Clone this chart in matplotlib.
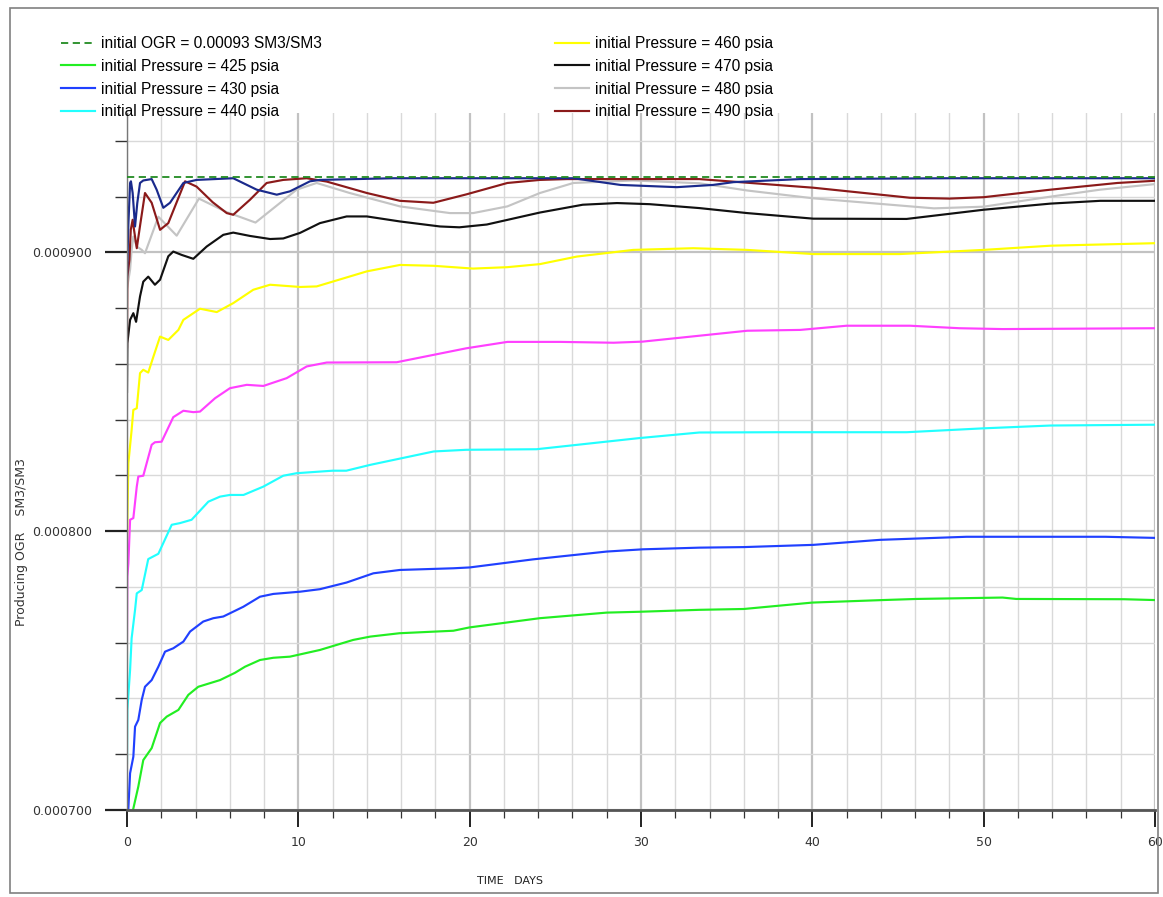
import matplotlib
matplotlib.use("Agg")
import matplotlib.pyplot as plt
from matplotlib.ticker import MultipleLocator, FormatStrFormatter
from matplotlib.patches import Rectangle

# producing OGR values in units of 1e-6 SM3/SM3
OGR_SCALE = 1e-6
ogr_initial = 927.0

t_425 = [0.35, 0.66, 0.95, 1.44, 1.93, 2.32, 3.0, 3.58, 4.16, 5.43, 6.3, 6.89, 7.76, 8.54, 9.51,
         11.26, 13.2, 14.2, 15.9, 19.05, 20.0, 24.1, 28.0, 29.9, 33.4, 36.0, 40.0, 44.1, 46.1,
         51.1, 51.9, 58.2, 60.0]
ogr_425 = [700.0, 708.4, 717.9, 722.2, 731.2, 733.5, 735.9, 741.3, 744.2, 746.6, 749.2, 751.4,
           753.8, 754.6, 755.0, 757.4, 761.0, 762.2, 763.4, 764.3, 765.5, 768.8, 770.8, 771.1,
           771.8, 772.1, 774.4, 775.3, 775.7, 776.2, 775.7, 775.6, 775.3]

t_430 = [0.08, 0.18, 0.37, 0.47, 0.66, 0.86, 1.05, 1.44, 1.83, 2.22, 2.7, 3.29, 3.68, 4.45, 5.04,
         5.62, 6.79, 7.76, 8.54, 10.1, 11.26, 12.82, 14.38, 15.93, 19.05, 20.0, 23.7, 28.0, 30.1,
         33.4, 36.0, 40.06, 43.95, 49.0, 57.1, 60.0]
ogr_430 = [700.6, 713.2, 719.1, 729.9, 732.3, 739.5, 744.2, 746.6, 751.4, 756.8, 758.0, 760.4,
           764.0, 767.6, 768.8, 769.4, 772.9, 776.5, 777.5, 778.3, 779.2, 781.6, 784.9, 786.1,
           786.7, 787.0, 789.9, 792.7, 793.5, 794.1, 794.3, 795.1, 796.9, 798.0, 798.0, 797.6]

t_440 = [0.0, 0.02, 0.18, 0.27, 0.47, 0.57, 0.86, 1.24, 1.83, 2.61, 3.09, 3.77, 4.75, 5.43, 6.0,
         6.8, 7.96, 9.12, 9.9, 12.0, 12.8, 14.2, 17.9, 19.8, 23.9, 29.9, 33.4, 37.9, 45.5, 50.0,
         53.9, 60.0]
ogr_440 = [716.8, 735.9, 750.2, 761.6, 771.8, 777.7, 778.9, 790.0, 791.9, 802.3, 802.9, 804.1,
           810.6, 812.4, 813.0, 813.0, 816.0, 819.9, 820.8, 821.7, 821.7, 823.8, 828.6, 829.2,
           829.4, 833.4, 835.4, 835.5, 835.5, 836.9, 837.9, 838.2]

t_450 = [0.0, 0.02, 0.08, 0.18, 0.37, 0.57, 0.66, 0.95, 1.44, 1.63, 2.02, 2.7, 3.29, 3.87, 4.26,
         5.14, 6.01, 6.99, 7.96, 9.32, 10.49, 11.66, 15.74, 19.8, 22.2, 25.3, 28.4, 30.1, 36.2,
         39.3, 42.0, 45.7, 48.6, 51.1, 60.0]
ogr_450 = [761.0, 783.7, 788.5, 804.1, 804.7, 816.0, 819.6, 819.9, 831.0, 831.9, 832.1, 840.9,
           843.2, 842.7, 842.9, 847.7, 851.3, 852.5, 852.1, 854.9, 859.1, 860.5, 860.6, 865.6,
           867.9, 867.9, 867.6, 868.0, 871.9, 872.2, 873.7, 873.7, 872.8, 872.5, 872.8]

t_460 = [0.0, 0.08, 0.27, 0.37, 0.57, 0.76, 0.95, 1.24, 1.54, 1.93, 2.41, 3.0, 3.29, 4.26, 5.24,
         6.2, 7.37, 8.35, 10.1, 11.07, 14.0, 15.93, 17.88, 20.2, 22.2, 24.1, 26.25, 29.55, 33.05,
         36.2, 40.06, 45.1, 50.0, 53.9, 60.0]
ogr_460 = [797.0, 824.4, 836.3, 843.5, 844.1, 856.7, 857.9, 856.9, 862.6, 869.8, 868.6, 872.2,
           875.8, 879.8, 878.6, 881.8, 886.6, 888.4, 887.6, 887.8, 893.2, 895.5, 895.2, 894.2,
           894.7, 895.8, 898.5, 900.9, 901.5, 900.9, 899.4, 899.4, 900.9, 902.4, 903.3]

t_470 = [0.0, 0.02, 0.18, 0.37, 0.53, 0.76, 0.95, 1.24, 1.63, 1.93, 2.41, 2.7, 3.19, 3.87, 4.65,
         5.62, 6.2, 7.18, 8.35, 9.12, 10.1, 11.26, 12.82, 14.0, 15.93, 18.27, 19.4, 21.0, 24.1,
         26.6, 28.6, 30.5, 33.4, 36.2, 40.06, 45.5, 50.0, 53.9, 56.8, 60.0]
ogr_470 = [850.0, 867.4, 875.8, 878.2, 875.1, 884.2, 889.5, 891.3, 888.4, 890.2, 898.6, 900.3,
           899.1, 897.7, 902.1, 906.3, 907.1, 905.9, 904.8, 905.0, 907.0, 910.5, 912.9, 912.9,
           911.1, 909.3, 909.0, 910.0, 914.3, 917.1, 917.7, 917.3, 915.9, 914.1, 912.1, 912.0,
           915.3, 917.5, 918.5, 918.5]

t_480 = [0.0, 0.18, 0.27, 0.37, 0.57, 0.86, 1.05, 1.83, 2.9, 4.2, 5.8, 7.5, 9.9, 11.07, 13.0,
         15.93, 18.85, 20.2, 22.2, 24.1, 26.05, 29.55, 33.4, 36.2, 40.06, 47.1, 50.0, 53.9, 56.8,
         60.0]
ogr_480 = [887.0, 893.8, 900.9, 905.7, 902.1, 900.9, 899.7, 912.8, 906.0, 919.3, 914.5, 910.7,
           922.5, 924.9, 921.3, 916.5, 914.1, 914.1, 916.5, 921.3, 924.9, 925.8, 924.8, 922.2,
           919.4, 915.8, 916.4, 920.0, 922.5, 924.5]

t_490 = [0.0, 0.02, 0.14, 0.22, 0.33, 0.41, 0.57, 0.76, 1.05, 1.44, 1.93, 2.41, 3.39, 4.06, 5.0,
         5.82, 6.2, 7.18, 8.15, 9.12, 10.49, 11.66, 14.0, 15.93, 17.88, 19.8, 22.2, 24.1, 25.7,
         29.55, 33.4, 36.4, 40.06, 45.7, 48.0, 50.0, 53.9, 57.8, 60.0]
ogr_490 = [866.0, 891.3, 897.3, 908.1, 911.7, 908.1, 901.5, 909.5, 921.3, 917.8, 908.1, 910.5,
           925.5, 923.6, 918.0, 914.1, 913.5, 918.9, 924.9, 926.0, 926.6, 925.4, 921.3, 918.5,
           917.8, 920.8, 924.9, 926.0, 926.3, 926.3, 926.3, 924.9, 923.2, 919.6, 919.3, 919.8,
           922.5, 924.9, 925.7]

t_500 = [0.0, 0.08, 0.18, 0.23, 0.33, 0.47, 0.6, 0.76, 0.95, 1.44, 1.73, 2.12, 2.51, 3.29, 4.06,
         6.2, 7.57, 8.74, 9.51, 10.68, 11.26, 15.54, 26.05, 28.8, 32.1, 34.2, 35.4, 39.3, 48.0, 60.0]
ogr_500 = [891.3, 910.0, 924.9, 925.5, 921.3, 909.3, 917.7, 924.9, 925.8, 926.3, 922.5, 916.0,
           917.8, 924.9, 926.0, 926.6, 922.5, 920.7, 921.9, 925.5, 926.0, 926.6, 926.6, 924.2,
           923.4, 924.2, 925.2, 926.3, 926.6, 926.6]

fig = plt.figure(figsize=(11.63, 8.97), dpi=100)
ax = fig.add_axes([127 / 1163, 1 - 810 / 897, 1028 / 1163, 697 / 897])

def sc(vals):
    return [v * OGR_SCALE for v in vals]

lw = 1.55
ax.plot(t_425, sc(ogr_425), color="#22ee22", lw=lw, label="initial Pressure = 425 psia")
ax.plot(t_430, sc(ogr_430), color="#2040ff", lw=lw, label="initial Pressure = 430 psia")
ax.plot(t_440, sc(ogr_440), color="#22ffff", lw=lw, label="initial Pressure = 440 psia")
ax.plot(t_450, sc(ogr_450), color="#ff40ff", lw=lw)
ax.plot(t_460, sc(ogr_460), color="#ffff00", lw=lw, label="initial Pressure = 460 psia")
ax.plot(t_470, sc(ogr_470), color="#111111", lw=lw, label="initial Pressure = 470 psia")
ax.plot(t_480, sc(ogr_480), color="#c4c4c4", lw=lw, label="initial Pressure = 480 psia")
ax.plot(t_490, sc(ogr_490), color="#8b1a1a", lw=lw, label="initial Pressure = 490 psia")
ax.plot(t_500, sc(ogr_500), color="#1a2a8c", lw=lw)
ax.axhline(ogr_initial * OGR_SCALE, color="#228b22", lw=1.3, ls=(0, (4, 2.5)), zorder=5,
           label="initial OGR = 0.00093 SM3/SM3")

ax.set_xlim(0, 60)
ax.set_ylim(700 * OGR_SCALE, 950 * OGR_SCALE)
ax.xaxis.set_major_locator(MultipleLocator(10))
ax.xaxis.set_minor_locator(MultipleLocator(2))
ax.yaxis.set_major_locator(MultipleLocator(100 * OGR_SCALE))
ax.yaxis.set_minor_locator(MultipleLocator(20 * OGR_SCALE))
ax.yaxis.set_major_formatter(FormatStrFormatter("%.6f"))

ax.grid(which="minor", color="#d9d9d9", lw=1.0)
ax.grid(which="major", color="#c2c2c2", lw=1.6)
ax.set_axisbelow(True)

for s in ["top", "right"]:
    ax.spines[s].set_visible(False)
ax.spines["left"].set_color("#777777")
ax.spines["left"].set_linewidth(1.0)
ax.spines["bottom"].set_color("#555555")
ax.spines["bottom"].set_linewidth(2.0)

ax.tick_params(axis="y", which="major", length=16, width=1.6, color="#222222", pad=9,
               labelsize=9, labelcolor="#333333")
ax.tick_params(axis="y", which="minor", length=8.5, width=1.0, color="#333333")
ax.tick_params(axis="x", which="major", length=12, width=1.4, color="#222222", pad=7,
               labelsize=9, labelcolor="#333333")
ax.tick_params(axis="x", which="minor", length=6, width=0.9, color="#333333")

handles, labels = ax.get_legend_handles_labels()
order = [7, 0, 1, 2, 3, 4, 5, 6]
fig.legend([handles[i] for i in order], [labels[i] for i in order], ncol=2,
           loc="upper left", bbox_to_anchor=(61 / 1163, 1 - 36 / 897), frameon=False,
           prop={"family": "Liberation Sans", "size": 11.2}, handlelength=2.2,
           handletextpad=0.35, columnspacing=15.0, labelspacing=0.5, borderpad=0,
           borderaxespad=0)

fig.text(22 / 1163, 1 - 542 / 897, "Producing OGR    SM3/SM3", rotation=90, ha="center",
         va="center", fontsize=9, color="#333333")
fig.text(510 / 1163, 1 - 881 / 897, "TIME   DAYS", ha="center", va="center", fontsize=8,
         color="#222222")

fig.add_artist(Rectangle((10 / 1163, 1 - 893 / 897), 1148 / 1163, 885 / 897,
                         transform=fig.transFigure, fill=False, ec="#808080", lw=1.2))

fig.savefig("out.png", dpi=100)
